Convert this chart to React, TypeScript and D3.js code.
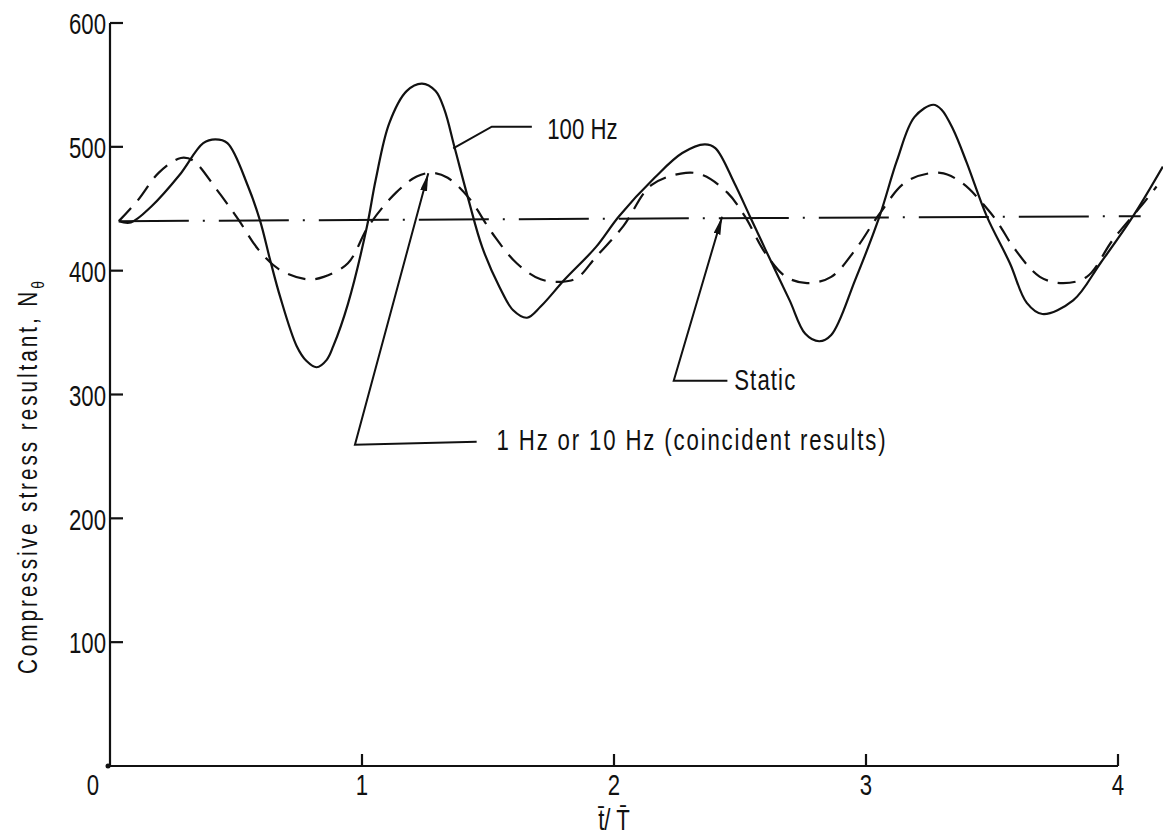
import * as d3 from "d3";

// axis ticks
const xTicks = [0, 1, 2, 3, 4];
const yTicks = [100, 200, 300, 400, 500, 600];

// 100 Hz response (solid)
const hz100T = [
  0.035, 0.083, 0.165, 0.275, 0.37, 0.418, 0.466, 0.548, 0.596, 0.635, 0.675,
  0.741, 0.78, 0.82, 0.86, 0.886, 0.944, 1.019, 1.054, 1.108, 1.177, 1.238,
  1.292, 1.327, 1.368, 1.423, 1.477, 1.545, 1.6, 1.655, 1.709, 1.805, 1.928,
  2.02, 2.161, 2.271, 2.36, 2.402, 2.477, 2.539, 2.615, 2.697, 2.759, 2.814,
  2.862, 2.958, 3.054, 3.123, 3.192, 3.267, 3.3, 3.346, 3.4, 3.479, 3.571,
  3.638, 3.7, 3.822, 3.93, 4.06, 4.178,
];
const hz100N = [
  440, 439, 452, 477, 503, 506, 503, 468, 440, 409, 379, 339, 327, 322, 328,
  339, 373, 435, 473, 519, 545, 551, 545, 530, 499, 457, 419, 387, 368, 362,
  371, 393, 419, 444, 475, 495, 502, 499, 471, 444, 411, 376, 349, 343, 348,
  393, 444, 489, 524, 534, 530, 514, 487, 444, 406, 374, 365, 376, 406, 444,
  484,
];

// 1 Hz / 10 Hz response (dashed)
const lowT = [
  0.035, 0.111, 0.193, 0.281, 0.329, 0.425, 0.507, 0.589, 0.671, 0.78, 0.848,
  0.944, 1.026, 1.135, 1.217, 1.279, 1.34, 1.423, 1.518, 1.614, 1.709, 1.791,
  1.853, 1.928, 2.037, 2.148, 2.285, 2.354, 2.45, 2.519, 2.601, 2.683, 2.766,
  2.862, 2.958, 3.054, 3.161, 3.294, 3.38, 3.485, 3.532, 3.585, 3.69, 3.78,
  3.876, 3.98, 4.107, 4.153,
];
const lowN = [
  440, 457, 479, 491, 489, 465, 442, 417, 401, 393, 395, 406, 436, 463, 476,
  479, 475, 459, 430, 406, 393, 391, 394, 411, 436, 469, 479, 477, 463, 444,
  414, 395, 390, 395, 417, 446, 472, 479, 471, 449, 436, 419, 395, 390, 395,
  425, 456, 468,
];

// static solution (dash-dot)
const staticT = [0.035, 4.09];
const staticN = [440, 444];

// annotations: leader lines (text end -> elbow -> target) and label anchors
const noteText = ["100 Hz", "1 Hz or 10 Hz (coincident results)", "Static"];
const notePathT = [
  [1.674, 1.515, 1.362],
  [1.455, 0.972, 1.263],
  [2.45, 2.237, 2.429],
];
const notePathN = [
  [516.3, 516.3, 498.8],
  [261.9, 259.4, 478.6],
  [311.2, 311.2, 443.6],
];
const noteTextT = [1.735, 1.534, 2.477];
const noteTextN = [506.4, 254.8, 303.6];
const noteArrow = [false, true, true];
const noteSpacing = [0, 2.5, 1.5];

const FONT = "'Liberation Sans', Arial, sans-serif";
const SQUEEZE = 0.74;

function Label({ x, y, anchor = "start", size = 30, spacing = 0, rotate = 0, baseline = "auto", children }) {
  return (
    <g transform={`translate(${x},${y}) rotate(${rotate}) scale(${SQUEEZE},1)`}>
      <text
        textAnchor={anchor}
        fontSize={size}
        fontFamily={FONT}
        letterSpacing={spacing}
        dominantBaseline={baseline}
        fill="#111"
      >
        {children}
      </text>
    </g>
  );
}

export default function App() {
  const width = 1163;
  const height = 838;
  const x = d3.scaleLinear().domain([0, 4]).range([110, 1118]);
  const y = d3.scaleLinear().domain([0, 600]).range([766, 23]);

  const line = d3
    .line()
    .x((d) => x(d[0]))
    .y((d) => y(d[1]))
    .curve(d3.curveCatmullRom.alpha(0.5));
  const straight = d3
    .line()
    .x((d) => x(d[0]))
    .y((d) => y(d[1]));

  const hz100 = d3.zip(hz100T, hz100N);
  const low = d3.zip(lowT, lowN);
  const stat = d3.zip(staticT, staticN);

  return (
    <svg
      width={width}
      height={height}
      style={{ position: "absolute", left: 0, top: 0, background: "white" }}
    >
      <defs>
        <marker
          id="arrow"
          markerUnits="userSpaceOnUse"
          markerWidth={20}
          markerHeight={8}
          refX={18}
          refY={3.5}
          orient="auto"
        >
          <path d="M0,0 L18,3.5 L0,7 Z" fill="#111" />
        </marker>
      </defs>

      {/* axes */}
      <g stroke="#111" strokeWidth={2.2} fill="none">
        <line x1={x(0)} x2={x(0)} y1={y(600)} y2={y(0)} />
        <line x1={x(0) - 2} x2={x(4)} y1={y(0)} y2={y(0)} />
        {yTicks.map((t) => (
          <line key={t} x1={x(0)} x2={x(0) + 13} y1={y(t)} y2={y(t)} />
        ))}
        {xTicks
          .filter((t) => t > 0)
          .map((t) => (
            <line key={t} x1={x(t)} x2={x(t)} y1={y(0)} y2={y(0) - 12} />
          ))}
      </g>
      <circle cx={x(0) - 2} cy={y(0)} r={2.5} fill="#111" />

      {yTicks.map((t) => (
        <Label key={t} x={x(0) - 4} y={y(t) + 1} anchor="end" baseline="central">
          {t}
        </Label>
      ))}
      {xTicks.map((t) => (
        <Label key={t} x={t === 0 ? x(t) - 17 : x(t)} y={795} anchor="middle">
          {t}
        </Label>
      ))}

      <Label x={x(2)} y={830} anchor="middle">
        {"t\u0304/ T\u0304"}
      </Label>
      <Label x={37} y={476} anchor="middle" rotate={-90} spacing={4} size={28}>
        Compressive stress resultant,{"  "}N
        <tspan fontSize={19} dy={7}>
          {"\u03b8"}
        </tspan>
      </Label>

      {/* curves */}
      <path
        d={straight(stat)}
        fill="none"
        stroke="#111"
        strokeWidth={2}
        strokeDasharray="70 14 2 14"
      />
      <path
        d={line(low)}
        fill="none"
        stroke="#111"
        strokeWidth={2.2}
        strokeDasharray="18 10"
      />
      <path d={line(hz100)} fill="none" stroke="#111" strokeWidth={2.2} />

      {/* annotations */}
      {noteText.map((txt, i) => (
        <g key={txt}>
          <path
            d={straight(d3.zip(notePathT[i], notePathN[i]))}
            fill="none"
            stroke="#111"
            strokeWidth={2}
            markerEnd={noteArrow[i] ? "url(#arrow)" : undefined}
          />
          <Label x={x(noteTextT[i])} y={y(noteTextN[i])} spacing={noteSpacing[i]}>
            {txt}
          </Label>
        </g>
      ))}
    </svg>
  );
}
